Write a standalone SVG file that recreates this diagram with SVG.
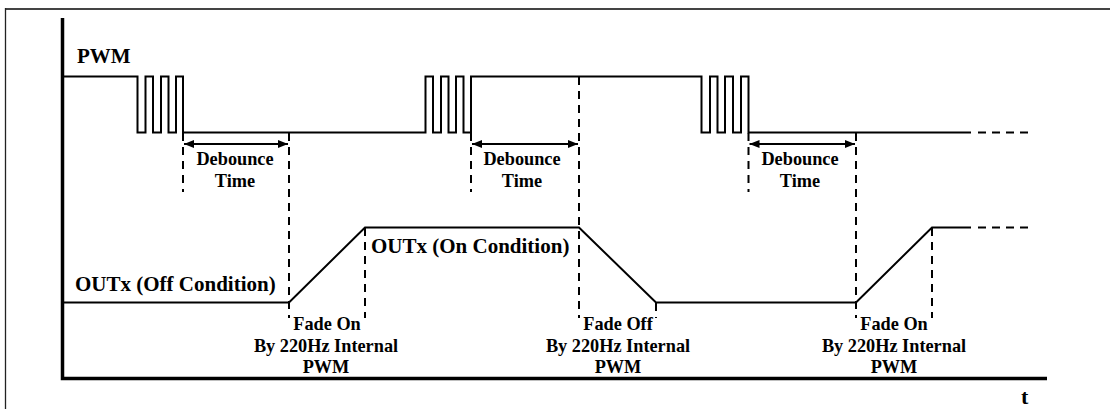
<svg xmlns="http://www.w3.org/2000/svg" width="1110" height="409" viewBox="0 0 1110 409">
<style>
.sig{fill:none;stroke:#000;stroke-width:2;stroke-linejoin:miter}
.dash{fill:none;stroke:#000;stroke-width:2;stroke-dasharray:8,6}
.axis{fill:none;stroke:#000;stroke-width:3.5}
.arr{fill:none;stroke:#000;stroke-width:2;marker-start:url(#ah);marker-end:url(#ah)}
.lbl{font-family:"Liberation Serif","Times New Roman",serif;font-weight:bold;fill:#000}
.big{font-size:21px}
.sm{font-size:18.3px;text-anchor:middle}
</style>
<defs>
<marker id="ah" viewBox="0 0 10 8" refX="10" refY="4" markerWidth="10" markerHeight="8" markerUnits="userSpaceOnUse" orient="auto-start-reverse">
<path d="M0,0 L10,4 L0,8 Z" fill="#000"/>
</marker>
</defs>
<rect width="1110" height="409" fill="#fff"/>
<g id="frame">
<line x1="5" y1="9" x2="1110" y2="9" stroke="#444" stroke-width="2"/>
<line x1="5.5" y1="8" x2="5.5" y2="409" stroke="#222" stroke-width="1.3"/>
</g>
<g id="axes">
<polyline class="axis" points="62.5,18 62.5,378.5 1047,378.5"/>
<text class="lbl" x="1021" y="404" font-size="22">t</text>
</g>
<g id="pwm">
<polyline class="sig" points="62,76.5 137.5,76.5 137.5,132.5 145.5,132.5 145.5,76.5 153,76.5 153,132.5 161,132.5 161,76.5 168.5,76.5 168.5,132.5 176,132.5 176,76.5 183,76.5 183,132.5 425.5,132.5 425.5,76.5 433,76.5 433,132.5 441,132.5 441,76.5 448.5,76.5 448.5,132.5 456,132.5 456,76.5 463.5,76.5 463.5,132.5 471,132.5 471,76.5 701.5,76.5 701.5,132.5 710,132.5 710,76.5 717.5,76.5 717.5,132.5 725,132.5 725,76.5 733,76.5 733,132.5 741,132.5 741,76.5 748.5,76.5 748.5,132.5 971,132.5"/>
<line class="dash" x1="978" y1="132.5" x2="1030" y2="132.5"/>
<text class="lbl big" x="77" y="63">PWM</text>
</g>
<g id="outx">
<polyline class="sig" points="62,302.5 289,302.5 365,227.5 579,227.5 656,302.5 856,302.5 932,227.5 971,227.5"/>
<line class="dash" x1="978" y1="227.5" x2="1030" y2="227.5"/>
<text class="lbl big" x="75" y="291">OUTx (Off Condition)</text>
<text class="lbl big" x="371" y="253">OUTx (On Condition)</text>
</g>
<g id="connectors">
<line class="dash" x1="183" y1="133" x2="183" y2="192"/>
<line class="dash" x1="289" y1="133" x2="289" y2="318"/>
<line class="dash" x1="471" y1="133" x2="471" y2="192"/>
<line class="dash" x1="579" y1="77" x2="579" y2="318"/>
<line class="dash" x1="748.5" y1="133" x2="748.5" y2="192"/>
<line class="dash" x1="856" y1="133" x2="856" y2="318"/>
<line class="dash" x1="365" y1="228" x2="365" y2="318"/>
<line class="dash" x1="656" y1="303" x2="656" y2="318"/>
<line class="dash" x1="932" y1="228" x2="932" y2="318"/>
<line class="arr" x1="184" y1="144" x2="288" y2="144"/>
<line class="arr" x1="472" y1="144" x2="578" y2="144"/>
<line class="arr" x1="749.5" y1="144" x2="855" y2="144"/>
</g>
<g id="debounce1">
<text class="lbl sm" x="235" y="165">Debounce</text>
<text class="lbl sm" x="235" y="187">Time</text>
</g>
<g id="debounce2">
<text class="lbl sm" x="522" y="165">Debounce</text>
<text class="lbl sm" x="522" y="187">Time</text>
</g>
<g id="debounce3">
<text class="lbl sm" x="800" y="165">Debounce</text>
<text class="lbl sm" x="800" y="187">Time</text>
</g>
<g id="fade1">
<text class="lbl sm" x="327" y="330">Fade On</text>
<text class="lbl sm" x="326" y="352">By 220Hz Internal</text>
<text class="lbl sm" x="326" y="373">PWM</text>
</g>
<g id="fade2">
<text class="lbl sm" x="618" y="330">Fade Off</text>
<text class="lbl sm" x="618" y="352">By 220Hz Internal</text>
<text class="lbl sm" x="618" y="373">PWM</text>
</g>
<g id="fade3">
<text class="lbl sm" x="894" y="330">Fade On</text>
<text class="lbl sm" x="894" y="352">By 220Hz Internal</text>
<text class="lbl sm" x="894" y="373">PWM</text>
</g>
</svg>
